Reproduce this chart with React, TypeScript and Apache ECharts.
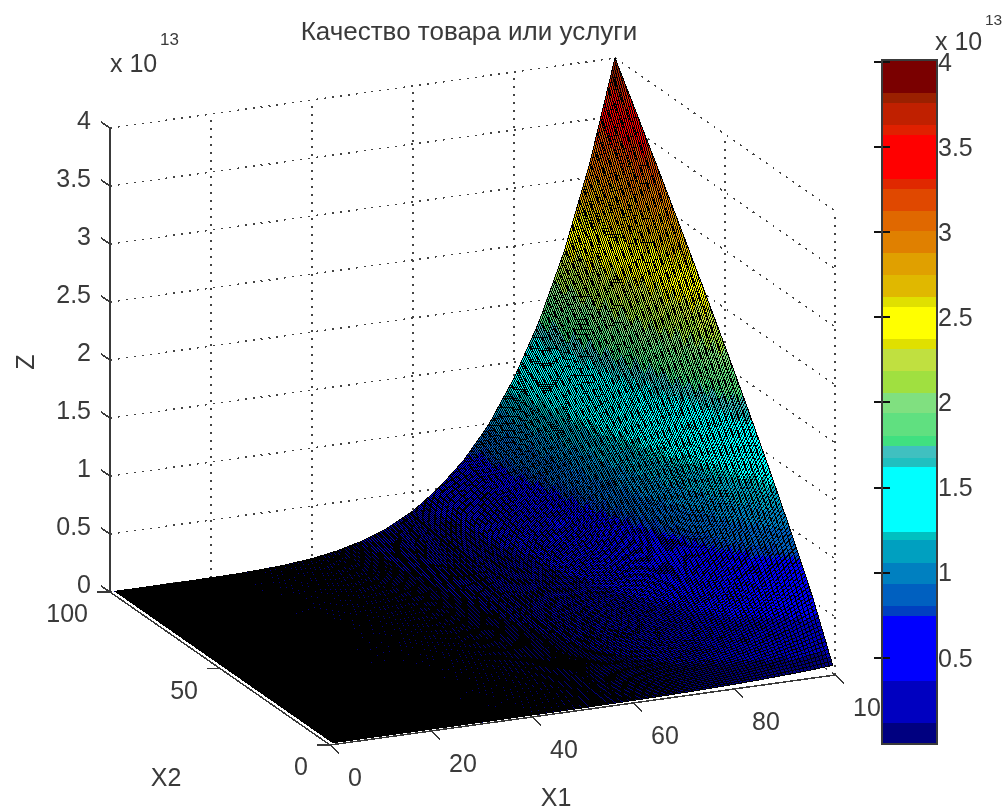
import React, { useEffect, useRef } from "react";
import * as echarts from "echarts";

const X1_TICKS = [0, 20, 40, 60, 80, 100];
const X2_TICKS = [0, 50, 100];
const Z_TICKS = [0, 0.5, 1, 1.5, 2, 2.5, 3, 3.5, 4];
const BAR_TICKS = [0.5, 1, 1.5, 2, 2.5, 3, 3.5, 4];

// Surface heights (units of 1e13)
const X1_NODES = [1, 5, 10, 15, 20, 25, 30, 35, 40, 45, 50, 55, 60, 65, 70, 75, 80, 85, 90, 95, 100];
const X2_NODES = [1, 10, 20, 30, 40, 50, 60, 70, 80, 90, 100];
const Z_ROW_1 = [0, 0, 0, 0, 0, 0.0001, 0.0002, 0.0004, 0.0008, 0.0014, 0.0024, 0.0038, 0.0058, 0.0087, 0.0124, 0.0172, 0.0237, 0.0317, 0.0418, 0.0543, 0.0696];
const Z_ROW_10 = [0, 0, 0, 0.0001, 0.0003, 0.0007, 0.0016, 0.0033, 0.0062, 0.0109, 0.0183, 0.029, 0.0443, 0.0659, 0.0936, 0.1305, 0.1792, 0.24, 0.3163, 0.4112, 0.5272];
const Z_ROW_20 = [0, 0, 0, 0.0001, 0.0005, 0.0012, 0.0029, 0.0061, 0.0114, 0.0201, 0.0337, 0.0534, 0.0815, 0.1213, 0.1722, 0.2402, 0.3299, 0.4415, 0.5822, 0.7569, 0.9704];
const Z_ROW_30 = [0, 0, 0, 0.0001, 0.0007, 0.0017, 0.0042, 0.0087, 0.0163, 0.0288, 0.0482, 0.0763, 0.1165, 0.1733, 0.2461, 0.3431, 0.4714, 0.6308, 0.8318, 1.081, 1.386];
const Z_ROW_40 = [0, 0, 0, 0.0002, 0.0009, 0.0022, 0.0054, 0.0112, 0.021, 0.0371, 0.0621, 0.0982, 0.15, 0.2233, 0.317, 0.442, 0.6072, 0.8126, 1.072, 1.393, 1.786];
const Z_ROW_50 = [0, 0, 0.0001, 0.0002, 0.0011, 0.0027, 0.0065, 0.0136, 0.0255, 0.0451, 0.0755, 0.1195, 0.1826, 0.2717, 0.3858, 0.538, 0.739, 0.989, 1.304, 1.695, 2.174];
const Z_ROW_60 = [0, 0, 0.0001, 0.0003, 0.0013, 0.0032, 0.0077, 0.016, 0.03, 0.053, 0.0887, 0.1404, 0.2144, 0.319, 0.453, 0.6316, 0.8677, 1.161, 1.531, 1.991, 2.552];
const Z_ROW_70 = [0, 0, 0.0001, 0.0003, 0.0015, 0.0037, 0.0088, 0.0183, 0.0343, 0.0606, 0.1016, 0.1607, 0.2455, 0.3653, 0.5187, 0.7233, 0.9936, 1.33, 1.753, 2.279, 2.922];
const Z_ROW_80 = [0, 0, 0.0001, 0.0003, 0.0016, 0.0041, 0.0099, 0.0205, 0.0386, 0.0682, 0.1142, 0.1808, 0.2761, 0.4109, 0.5834, 0.8135, 1.118, 1.495, 1.972, 2.564, 3.287];
const Z_ROW_90 = [0, 0, 0.0001, 0.0004, 0.0018, 0.0046, 0.0109, 0.0228, 0.0428, 0.0757, 0.1267, 0.2005, 0.3063, 0.4558, 0.6472, 0.9024, 1.24, 1.659, 2.188, 2.844, 3.646];
const Z_ROW_100 = [0, 0, 0.0001, 0.0004, 0.002, 0.005, 0.012, 0.025, 0.047, 0.083, 0.139, 0.22, 0.336, 0.5, 0.71, 0.99, 1.36, 1.82, 2.4, 3.12, 4];
const Z_TABLE = [Z_ROW_1, Z_ROW_10, Z_ROW_20, Z_ROW_30, Z_ROW_40, Z_ROW_50, Z_ROW_60, Z_ROW_70, Z_ROW_80, Z_ROW_90, Z_ROW_100];

// Colour bar: band limits (units of 1e13) and band colours, bottom to top
const BAND_LIMITS = [-0.008, 0.115, 0.361, 0.742, 0.8, 0.93, 1.053, 1.188, 1.24, 1.62, 1.674, 1.745, 1.803, 1.938, 2.055, 2.184, 2.313, 2.372, 2.56, 2.618, 2.747, 2.876, 3.005, 3.122, 3.251, 3.31, 3.568, 3.626, 3.755, 3.814, 4.01];
const BAND_COLORS = ["#000080", "#0000c0", "#0000ff", "#0040c0", "#0060c0", "#0080c0", "#00a0c0", "#00c0c0", "#00ffff", "#20c0c0", "#40c0c0", "#40e080", "#60e080", "#80e080", "#a0e040", "#c0e040", "#e0e000", "#ffff00", "#e0e000", "#e0b800", "#e0a000", "#e08000", "#e06800", "#e04800", "#e02800", "#ff0000", "#e02000", "#c02000", "#9a2000", "#7a0000"];

const FONT = "'Liberation Sans', Arial, sans-serif";
const INK = "#3a3a3a";
const FONT_SIZE = 25;
const LINES_ALONG_X1 = 185;
const LINES_ALONG_X2 = 140;
const LINE_POINTS = 150;

// Oblique view of the axes box, in the pixel scale of the hidden main axes
const project = (x1: number, x2: number, z: number): [number, number] => [
  330 + 5.05 * x1 - 2.2 * x2,
  745 - 0.7 * x1 - 1.53 * x2 - 116 * z,
];

const bracket = (nodes: number[], v: number): [number, number] => {
  let i = 0;
  while (i < nodes.length - 2 && v > nodes[i + 1]) i++;
  return [i, (v - nodes[i]) / (nodes[i + 1] - nodes[i])];
};

const heightAt = (x1: number, x2: number): number => {
  const [c, u] = bracket(X1_NODES, x1);
  const [r, w] = bracket(X2_NODES, x2);
  const a = Z_TABLE[r][c] * (1 - u) + Z_TABLE[r][c + 1] * u;
  const b = Z_TABLE[r + 1][c] * (1 - u) + Z_TABLE[r + 1][c + 1] * u;
  return a * (1 - w) + b * w;
};

const colorFor = (z: number): string => {
  for (let i = 0; i < BAND_COLORS.length; i++) {
    if (z < BAND_LIMITS[i + 1]) return BAND_COLORS[i];
  }
  return BAND_COLORS[BAND_COLORS.length - 1];
};

const meshPos = (i: number, count: number) => 1 + (99 * i) / (count - 1);

const buildOption = () => {
  const gridLines: number[][] = [];
  Z_TICKS.forEach((z) => {
    gridLines.push([0, 100, z, 100, 100, z]);
    gridLines.push([100, 100, z, 100, 0, z]);
  });
  X1_TICKS.forEach((x) => gridLines.push([x, 100, 0, x, 100, 4]));
  X2_TICKS.forEach((x) => gridLines.push([100, x, 0, 100, x, 4]));

  // colour patches
  const cells: number[][] = [];
  for (let a = 99; a >= 1; a--) {
    for (let b = 99; b >= 1; b--) cells.push([a, b]);
  }

  // mesh lines: [0, X1] runs along X2, [1, X2] runs along X1
  const meshLines: number[][] = [];
  for (let i = 0; i < LINES_ALONG_X2; i++) meshLines.push([0, meshPos(i, LINES_ALONG_X2)]);
  for (let i = 0; i < LINES_ALONG_X1; i++) meshLines.push([1, meshPos(i, LINES_ALONG_X1)]);

  const axisLines = [
    [0, 100, 0, 0, 100, 4],
    [0, 0, 0, 0, 100, 0],
    [0, 0, 0, 100, 0, 0],
  ];

  const tickItems: any[] = [];
  Z_TICKS.forEach((z) => tickItems.push({ value: [0, 100, z], dx: -9, dy: -6, lx: -19, ly: -8, align: "right", text: String(z) }));
  X2_TICKS.forEach((x) => tickItems.push({ value: [0, x, 0], dx: -13, dy: 0, lx: -22, ly: 21, align: "right", text: String(x) }));
  X1_TICKS.forEach((x) => tickItems.push({ value: [x, 0, 0], dx: 9, dy: 8, lx: 18, ly: 32, align: "left", text: String(x) }));

  const bands = BAND_COLORS.map((c, i) => [BAND_LIMITS[i], BAND_LIMITS[i + 1], i]);

  const labelStyle = { fontFamily: FONT, fontSize: FONT_SIZE, fill: INK };
  const texts = [
    { text: "x 10", x: 110, y: 63, size: FONT_SIZE, align: "left" },
    { text: "13", x: 160, y: 39, size: 17, align: "left" },
    { text: "x 10", x: 935, y: 41, size: FONT_SIZE, align: "left" },
    { text: "13", x: 985, y: 19, size: 15.5, align: "left" },
    { text: "X2", x: 166, y: 777, size: FONT_SIZE, align: "center" },
    { text: "X1", x: 556, y: 797, size: FONT_SIZE, align: "center" },
  ];

  const lineSeries = (name: string, data: number[][], z: number, style: any) => ({
    type: "custom",
    name,
    coordinateSystem: "cartesian2d",
    xAxisIndex: 0,
    yAxisIndex: 0,
    silent: true,
    z,
    encode: { x: 0, y: 1 },
    data,
    renderItem: (_p: any, api: any) => {
      const s = api.coord(project(api.value(0), api.value(1), api.value(2)));
      const e = api.coord(project(api.value(3), api.value(4), api.value(5)));
      return { type: "line", shape: { x1: s[0], y1: s[1], x2: e[0], y2: e[1] }, style };
    },
  });

  return {
    animation: false,
    backgroundColor: "#ffffff",
    title: {
      text: "Качество товара или услуги",
      left: 469,
      top: 31,
      textAlign: "center",
      textVerticalAlign: "middle",
      padding: 0,
      textStyle: { fontFamily: FONT, fontSize: 26, fontWeight: "normal", color: INK },
    },
    grid: [
      { left: 0, top: 0, width: 1003, height: 812, show: false },
      { left: 882, top: 60, width: 55, height: 684, show: false },
    ],
    xAxis: [
      { type: "value", gridIndex: 0, min: 0, max: 1003, show: false },
      { type: "value", gridIndex: 1, min: 0, max: 1, show: false },
    ],
    yAxis: [
      { type: "value", gridIndex: 0, min: 0, max: 812, inverse: true, show: false },
      {
        type: "value",
        gridIndex: 1,
        position: "right",
        min: BAND_LIMITS[0],
        max: BAND_LIMITS[BAND_LIMITS.length - 1],
        z: 10,
        splitLine: { show: false },
        axisLine: { show: false },
        axisTick: { show: true, inside: true, length: 8, customValues: BAR_TICKS, lineStyle: { color: "#111", width: 1.5 } },
        axisLabel: {
          show: true,
          margin: 1,
          customValues: BAR_TICKS,
          formatter: (v: number) => String(v),
          fontFamily: FONT,
          fontSize: FONT_SIZE,
          color: INK,
          padding: [4, 0, 0, 0],
          hideOverlap: false,
        },
      },
      {
        type: "value",
        gridIndex: 1,
        position: "left",
        min: BAND_LIMITS[0],
        max: BAND_LIMITS[BAND_LIMITS.length - 1],
        z: 10,
        splitLine: { show: false },
        axisLine: { show: false },
        axisLabel: { show: false },
        axisTick: { show: true, inside: true, length: 8, customValues: BAR_TICKS, lineStyle: { color: "#111", width: 1.5 } },
      },
    ],
    graphic: [
      ...texts.map((t) => ({
        type: "text",
        x: t.x,
        y: t.y,
        z: 20,
        silent: true,
        style: { ...labelStyle, text: t.text, fontSize: t.size, align: t.align, verticalAlign: "middle" },
      })),
      {
        type: "text",
        x: 25,
        y: 362,
        rotation: Math.PI / 2,
        z: 20,
        silent: true,
        style: { ...labelStyle, text: "Z", align: "center", verticalAlign: "middle" },
      },
      {
        type: "rect",
        z: 20,
        silent: true,
        shape: { x: 882, y: 60, width: 55, height: 684 },
        style: { fill: "none", stroke: INK, lineWidth: 2 },
      },
    ],
    series: [
      lineSeries("grid", gridLines, 1, { stroke: "#444", lineWidth: 1.5, lineDash: [2, 6] }),
      {
        type: "custom",
        name: "surface",
        coordinateSystem: "cartesian2d",
        xAxisIndex: 0,
        yAxisIndex: 0,
        silent: true,
        z: 2,
        progressive: 0,
        encode: { x: 0, y: 1 },
        data: cells,
        renderItem: (_p: any, api: any) => {
          const a = api.value(0);
          const b = api.value(1);
          const corner = (p: number, q: number) => api.coord(project(p, q, heightAt(p, q)));
          const color = colorFor(heightAt(a, b));
          return {
            type: "polygon",
            shape: { points: [corner(a, b), corner(a + 1, b), corner(a + 1, b + 1), corner(a, b + 1)] },
            style: { fill: color, stroke: color, lineWidth: 1 },
          };
        },
      },
      {
        type: "custom",
        name: "mesh",
        coordinateSystem: "cartesian2d",
        xAxisIndex: 0,
        yAxisIndex: 0,
        silent: true,
        z: 2,
        progressive: 0,
        encode: { x: 1, y: 1 },
        data: meshLines,
        renderItem: (_p: any, api: any) => {
          const kind = api.value(0);
          const v = api.value(1);
          const points: number[][] = [];
          for (let i = 0; i < LINE_POINTS; i++) {
            const w = meshPos(i, LINE_POINTS);
            const p = kind === 0 ? v : w;
            const q = kind === 0 ? w : v;
            points.push(api.coord(project(p, q, heightAt(p, q))));
          }
          return {
            type: "polyline",
            z2: 5,
            shape: { points },
            style: { fill: null, stroke: "#000", lineWidth: 1 },
          };
        },
      },
      lineSeries("axes", axisLines, 3, { stroke: INK, lineWidth: 1.5 }),
      {
        type: "custom",
        name: "ticks",
        coordinateSystem: "cartesian2d",
        xAxisIndex: 0,
        yAxisIndex: 0,
        silent: true,
        z: 3,
        encode: { x: 0, y: 1 },
        data: tickItems,
        renderItem: (p: any, api: any) => {
          const item = tickItems[p.dataIndex];
          const c = api.coord(project(api.value(0), api.value(1), api.value(2)));
          return {
            type: "group",
            children: [
              {
                type: "line",
                shape: { x1: c[0], y1: c[1], x2: c[0] + item.dx, y2: c[1] + item.dy },
                style: { stroke: INK, lineWidth: 1.5 },
              },
              {
                type: "text",
                x: c[0] + item.lx,
                y: c[1] + item.ly,
                style: { ...labelStyle, text: item.text, align: item.align, verticalAlign: "middle" },
              },
            ],
          };
        },
      },
      {
        type: "custom",
        name: "colorbar",
        coordinateSystem: "cartesian2d",
        xAxisIndex: 1,
        yAxisIndex: 1,
        silent: true,
        z: 5,
        encode: { x: 2, y: 0 },
        data: bands,
        renderItem: (_p: any, api: any) => {
          const lo = api.coord([0, api.value(0)]);
          const hi = api.coord([1, api.value(1)]);
          return {
            type: "rect",
            shape: { x: lo[0], y: hi[1], width: hi[0] - lo[0], height: lo[1] - hi[1] },
            style: { fill: BAND_COLORS[api.value(2)] },
          };
        },
      },
    ],
  };
};

export default function App() {
  const ref = useRef<HTMLDivElement>(null);
  useEffect(() => {
    document.body.style.margin = "0";
    const chart = echarts.init(ref.current!, null, { renderer: "svg" });
    chart.setOption(buildOption() as any);
    const svg = ref.current!.querySelector("svg");
    if (svg) (svg as any).style.shapeRendering = "crispEdges";
    return () => chart.dispose();
  }, []);
  return <div ref={ref} style={{ position: "absolute", left: 0, top: 0, width: 1003, height: 812, filter: "blur(0.4px)" }} />;
}
